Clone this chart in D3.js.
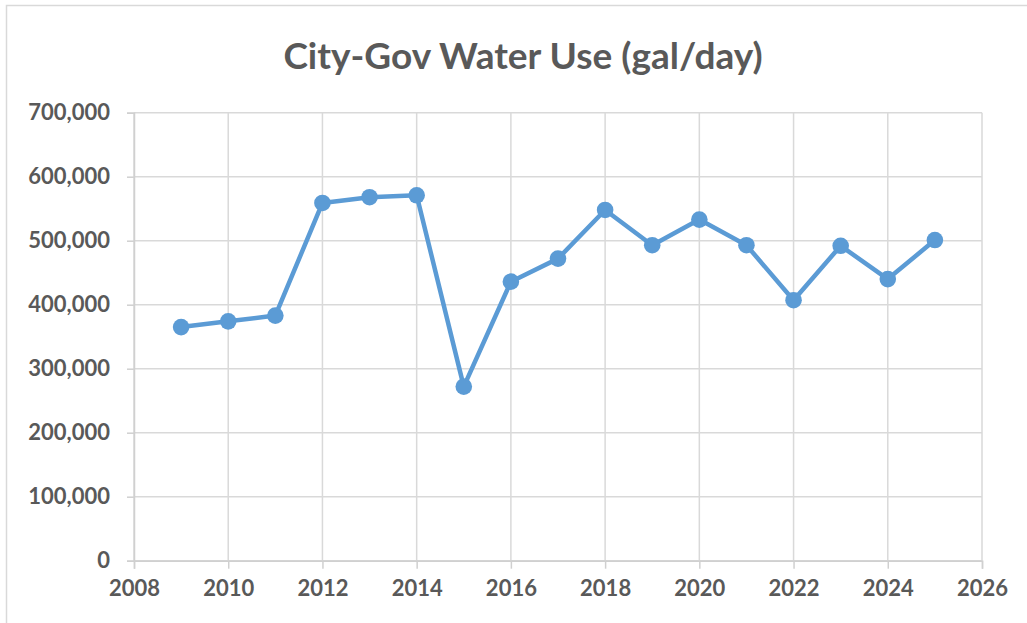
<!DOCTYPE html>
<html>
<head>
<meta charset="utf-8">
<script src="https://cdn.jsdelivr.net/npm/d3@7"></script>
<style>
  body { margin: 0; background: #fff; }
  svg text { font-family: Lato, "Open Sans", sans-serif; font-weight: bold; fill: #595959; }
</style>
</head>
<body>
<svg width="1027" height="623"></svg>
<script>
// Water use per year (gal/day)
const years = [2009, 2010, 2011, 2012, 2013, 2014, 2015, 2016, 2017, 2018, 2019, 2020, 2021, 2022, 2023, 2024, 2025];
const waterUse = [365000, 374000, 383000, 559000, 568000, 571000, 272000, 436000, 472000, 548000, 493000, 533000, 493000, 407000, 492000, 440000, 501000];
const xTicks = [2008, 2010, 2012, 2014, 2016, 2018, 2020, 2022, 2024, 2026];
const yTicks = [0, 100000, 200000, 300000, 400000, 500000, 600000, 700000];

const data = years.map((y, i) => ({ year: y, value: waterUse[i] }));

const svg = d3.select("svg");

// Outer chart border
svg.append("rect")
  .attr("x", 6.5).attr("y", 5.5)
  .attr("width", 1040).attr("height", 640)
  .attr("fill", "none")
  .attr("stroke", "#d9d9d9")
  .attr("stroke-width", 1.5);

// Plot area
const plot = { left: 134, right: 982, top: 112.7, bottom: 560.7 };

const x = d3.scaleLinear().domain([2008, 2026]).range([plot.left, plot.right]);
const y = d3.scaleLinear().domain([0, 700000]).range([plot.bottom, plot.top]);

// Gridlines
svg.append("g")
  .selectAll("line")
  .data(yTicks)
  .join("line")
  .attr("x1", plot.left).attr("x2", plot.right)
  .attr("y1", d => y(d)).attr("y2", d => y(d))
  .attr("stroke", "#d9d9d9")
  .attr("stroke-width", 1.5);

svg.append("g")
  .selectAll("line")
  .data(xTicks)
  .join("line")
  .attr("x1", d => x(d)).attr("x2", d => x(d))
  .attr("y1", plot.top).attr("y2", plot.bottom)
  .attr("stroke", "#d9d9d9")
  .attr("stroke-width", 1.5);

// Y axis
const yAxis = svg.append("g")
  .attr("transform", `translate(${plot.left},0)`)
  .call(d3.axisLeft(y)
    .tickValues(yTicks)
    .tickSize(7)
    .tickPadding(17)
    .tickFormat(d3.format(",")));

// X axis
const xAxis = svg.append("g")
  .attr("transform", `translate(0,${plot.bottom})`)
  .call(d3.axisBottom(x)
    .tickValues(xTicks)
    .tickSize(8)
    .tickPadding(12)
    .tickFormat(d3.format("d")));

[yAxis, xAxis].forEach(g => {
  g.select(".domain").attr("stroke", "#d0d0d0").attr("stroke-width", 1.5);
  g.selectAll(".tick line").attr("stroke", "#d0d0d0").attr("stroke-width", 1.5);
  g.selectAll(".tick text")
    .attr("fill", "#595959")
    .style("font-size", "22px")
    .style("font-family", "Lato, 'Open Sans', sans-serif")
    .style("font-weight", "bold");
});

// Series line
const line = d3.line()
  .x(d => x(d.year))
  .y(d => y(d.value));

svg.append("path")
  .datum(data)
  .attr("d", line)
  .attr("fill", "none")
  .attr("stroke", "#5b9bd5")
  .attr("stroke-width", 4.5)
  .attr("stroke-linejoin", "round");

// Markers
svg.append("g")
  .selectAll("circle")
  .data(data)
  .join("circle")
  .attr("cx", d => x(d.year))
  .attr("cy", d => y(d.value))
  .attr("r", 8.3)
  .attr("fill", "#5b9bd5");

// Title
svg.append("text")
  .attr("x", 523)
  .attr("y", 69)
  .attr("text-anchor", "middle")
  .style("font-size", "37px")
  .text("City-Gov Water Use (gal/day)");
</script>
</body>
</html>
